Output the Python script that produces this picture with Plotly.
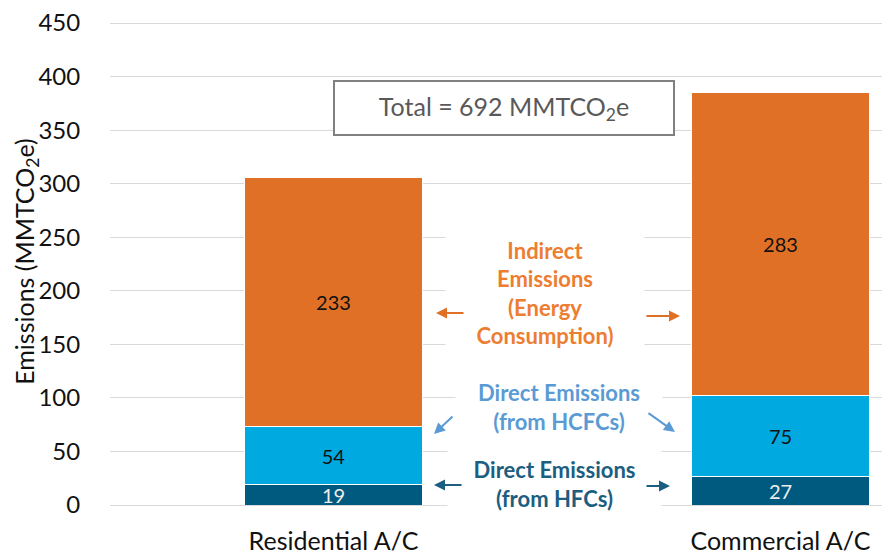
import plotly.graph_objects as go

categories = ["Residential A/C", "Commercial A/C"]
hfc = [19, 27]
hcfc = [54, 75]
indirect = [233, 283]
y_ticks = [0, 50, 100, 150, 200, 250, 300, 350, 400, 450]

ORANGE = "#E07026"
LBLUE = "#00A9DF"
DBLUE = "#005A80"
FONT = "Lato"

fig = go.Figure()
for name, vals, col, tcol in [
    ("Direct Emissions (from HFCs)", hfc, DBLUE, "#EDEDED"),
    ("Direct Emissions (from HCFCs)", hcfc, LBLUE, "#111111"),
    ("Indirect Emissions (Energy Consumption)", indirect, ORANGE, "#111111"),
]:
    fig.add_trace(go.Bar(
        x=categories, y=vals, name=name, width=0.4,
        marker=dict(color=col, line=dict(color="white", width=1)),
        text=vals, textposition="inside", insidetextanchor="middle",
        constraintext="none",
        textfont=dict(color=tcol, size=20, family=FONT),
        textangle=0, showlegend=False,
    ))

def px2x(p):
    return (p - 110) / 447 - 0.5

def py2y(p):
    return (505 - p) / (483 / 451)

# Text labels (white background hides the gridlines behind them)
fig.add_annotation(x=px2x(545), y=py2y(293), xref="x", yref="y",
                   text="<b>Indirect<br>Emissions<br>(Energy<br>Consumption)</b>",
                   showarrow=False, font=dict(color="#ED7D31", size=22, family=FONT),
                   bgcolor="white", width=196, height=124, align="center")
fig.add_annotation(x=px2x(559), y=py2y(407), xref="x", yref="y",
                   text="<b>Direct Emissions<br>(from HCFCs)</b>",
                   showarrow=False, font=dict(color="#5B9BD5", size=22, family=FONT),
                   bgcolor="white", width=204, height=60, align="center")
fig.add_annotation(x=px2x(555), y=py2y(484), xref="x", yref="y",
                   text="<b>Direct Emissions<br>(from HFCs)</b>",
                   showarrow=False, font=dict(color="#1B5E80", size=22, family=FONT),
                   bgcolor="white", width=211, height=72, align="center")

# Arrows
arrows = [
    ((465, 313), (436, 313), "#E07026"),
    ((645, 316), (680, 316), "#E07026"),
    ((454, 415), (434, 434), "#5B9BD5"),
    ((647, 412), (675, 432), "#5B9BD5"),
    ((463, 485), (434, 485), "#1B5E80"),
    ((645, 486), (670, 486), "#1B5E80"),
]
for (tx, ty), (hx, hy), c in arrows:
    fig.add_annotation(x=px2x(hx), y=py2y(hy), ax=px2x(tx), ay=py2y(ty),
                       xref="x", yref="y", axref="x", ayref="y", text="",
                       showarrow=True, arrowhead=2, arrowsize=1.1, arrowwidth=2,
                       arrowcolor=c)

# Total box
fig.add_annotation(x=px2x(504.5), y=py2y(108), xref="x", yref="y",
                   text="Total = 692 MMTCO<sub>2</sub>e", showarrow=False,
                   font=dict(color="#595959", size=25, family=FONT),
                   bordercolor="#808080", borderwidth=2, borderpad=1,
                   bgcolor="white", width=336, height=50)

# Y-axis title
fig.add_annotation(x=-0.108, y=0.505, xref="paper", yref="paper",
                   text="Emissions (MMTCO<sub>2</sub>e)", showarrow=False,
                   textangle=-90, xanchor="center", yanchor="middle",
                   font=dict(size=25, color="#111111", family=FONT))

# The page body has an 8px margin, so the figure is sized to fit the window
fig.update_layout(
    width=882, height=546,
    margin=dict(l=102, r=0, t=14, b=49),
    paper_bgcolor="white", plot_bgcolor="white",
    barmode="stack",
    font=dict(family=FONT, color="#222222"),
    xaxis=dict(range=[-0.5, 1.245], showgrid=False, showline=False,
               automargin=False, ticklabeloverflow="allow",
               ticks="outside", ticklen=14, tickcolor="rgba(0,0,0,0)",
               tickfont=dict(size=25, color="#111111")),
    yaxis=dict(range=[0, 451], tickvals=y_ticks, showgrid=True,
               automargin=False, ticklabeloverflow="allow",
               gridcolor="#D9D9D9", gridwidth=1, zeroline=True,
               zerolinecolor="#D9D9D9", zerolinewidth=1, showline=False,
               ticks="outside", ticklen=24, tickcolor="rgba(0,0,0,0)",
               tickfont=dict(size=24, color="#111111")),
)

fig.write_html("out.html")
